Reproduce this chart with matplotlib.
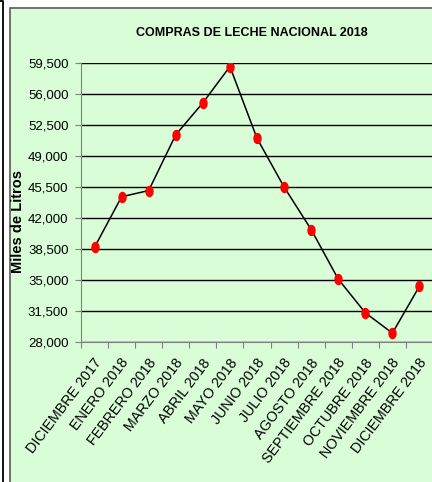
import numpy as np
import matplotlib
matplotlib.use("Agg")
import matplotlib.pyplot as plt
from matplotlib.path import Path
from matplotlib.patches import Rectangle
from matplotlib.lines import Line2D
from matplotlib.ticker import FuncFormatter
import matplotlib.transforms as mtransforms

# datos (miles de litros)
meses = ["DICIEMBRE 2017", "ENERO 2018", "FEBRERO 2018", "MARZO 2018", "ABRIL 2018",
         "MAYO 2018", "JUNIO 2018", "JULIO 2018", "AGOSTO 2018", "SEPTIEMBRE 2018",
         "OCTUBRE 2018", "NOVIEMBRE 2018", "DICIEMBRE 2018"]
compras = [38700, 44400, 45100, 51400, 55000, 59100, 51000,
           45500, 40700, 35100, 31300, 29000, 34300]
y_ticks = [28000, 31500, 35000, 38500, 42000, 45500, 49000, 52500, 56000, 59500]

verde = "#d9fdd7"
fuente = ["Liberation Sans", "DejaVu Sans"]

fig = plt.figure(figsize=(4.32, 4.82), dpi=100)
fig.patch.set_facecolor("white")

W, H = 432.0, 482.0
# fondo verde del grafico con borde gris
fondo = Rectangle((10 / W, -0.01), 1.0, 1.01 - 8 / H, transform=fig.transFigure,
                  facecolor=verde, edgecolor="#5a5a5a", linewidth=1.2, zorder=-5)
fig.patches.append(fondo)
# linea negra del marco exterior
fig.lines.append(Line2D([0, 2.5 / W, 2.5 / W], [1 - 1 / H, 1 - 1 / H, 0],
                        transform=fig.transFigure, color="black", linewidth=1.3, zorder=-4))

ax = fig.add_axes([81 / W, 140 / H, 352 / W, 279 / H])
ax.set_facecolor(verde)
ax.set_zorder(2)

x = np.arange(len(meses))

# marcador ovalado
t = np.linspace(0, 2 * np.pi, 40)
ovalo = Path(np.column_stack([np.cos(t) * 0.7, np.sin(t)]), closed=True)

ax.plot(x, compras, color="black", linewidth=1.1, zorder=3)
ax.plot(x, compras, linestyle="none", marker=ovalo, markersize=7.2,
        markerfacecolor="#ff0000", markeredgecolor="#ff0000", zorder=4)

ax.set_xlim(-0.5, len(meses) - 0.5)
ax.set_ylim(28000, 59500)
ax.set_yticks(y_ticks)
ax.yaxis.set_major_formatter(FuncFormatter(lambda v, p: f"{int(v):,}"))
ax.grid(axis="y", color="black", linewidth=1.0)
ax.set_axisbelow(True)

for s in ["top", "right"]:
    ax.spines[s].set_visible(False)
ax.spines["left"].set_color("#808080")
ax.spines["bottom"].set_color("#808080")

ax.tick_params(axis="y", length=4, color="#808080", pad=5, labelsize=9.5)
for lab in ax.get_yticklabels():
    lab.set_fontfamily(fuente)

# marcas en los limites de categoria, etiquetas en el centro
ax.set_xticks(np.arange(len(meses) + 1) - 0.5)
ax.set_xticklabels([])
ax.tick_params(axis="x", which="major", length=4, color="#808080")
ax.set_xticks(x, labels=meses, minor=True)
ax.tick_params(axis="x", which="minor", length=0, pad=10, labelsize=10.3)
desplaza = mtransforms.ScaledTranslation(-1 / 100, 0, fig.dpi_scale_trans)
for lab in ax.get_xticklabels(minor=True):
    lab.set_rotation(53)
    lab.set_rotation_mode("anchor")
    lab.set_ha("right")
    lab.set_va("top")
    lab.set_fontfamily(fuente)
    lab.set_transform(lab.get_transform() + desplaza)

fig.text(252 / W, 1 - 33 / H, "COMPRAS DE LECHE NACIONAL 2018", ha="center", va="center",
         fontsize=9, fontweight="bold", family=fuente)
fig.text(18 / W, 1 - 222 / H, "Miles de Litros", rotation=90, ha="center", va="center",
         fontsize=10.5, fontweight="bold", family=fuente)

fig.savefig("out.png", dpi=100, facecolor=fig.get_facecolor())
